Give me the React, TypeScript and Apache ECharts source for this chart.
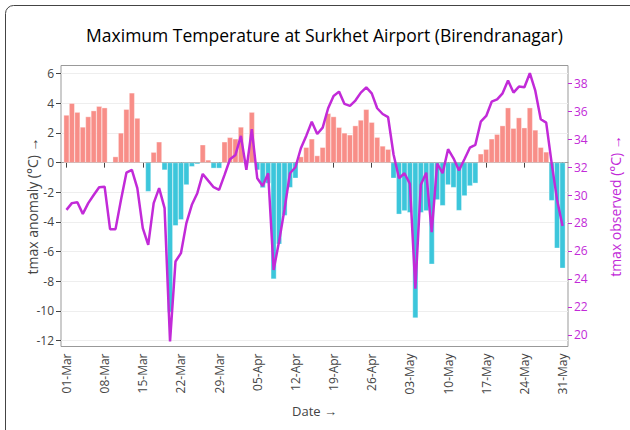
import React, { useEffect, useRef } from "react";
import * as echarts from "echarts";

// Months covered by the chart (name, number of days)
const months: [string, number][] = [
  ["Mar", 31],
  ["Apr", 30],
  ["May", 31],
];

// Tick labels shown on the date axis
const xTickLabels = [
  "01-Mar", "08-Mar", "15-Mar", "22-Mar", "29-Mar",
  "05-Apr", "12-Apr", "19-Apr", "26-Apr",
  "03-May", "10-May", "17-May", "24-May", "31-May",
];

// Daily tmax anomaly (°C), 01-Mar .. 31-May
const anomaly = [
  3.2, 4.0, 3.4, 2.4, 3.1, 3.5, 3.8, 3.7, 0, 0.4,
  2.0, 3.6, 4.7, 3.0, 0, -1.95, 0.7, 1.4, -0.5, -10.1,
  -4.25, -3.85, -1.5, -0.27, -0.1, 1.2, 0.18, -0.38, -0.38, 1.4,
  1.7, 1.6, 2.4, 0.2, 3.4, -0.5, -1.7, -1.4, -7.85, -5.5,
  -3.57, -1.68, -1.05, 0.4, 1.03, 1.6, 0.47, 1.03, 3.32, 3.1,
  2.38, 2.0, 1.87, 2.49, 2.87, 3.59, 2.72, 1.71, 1.12, 0.9,
  -1.05, -3.48, -3.25, -3.37, -10.48, -3.37, -3.25, -6.85, -2.51, -2.9,
  -1.5, -1.68, -3.23, -2.24, -1.57, -1.39, 0.59, 0.9, 1.6, 1.91,
  2.49, 3.7, 2.31, 3.03, 2.35, 3.7, 2.2, 1.03, 0.72, -2.56,
  -5.77, -7.12,
];

// Daily observed tmax (°C), 01-Mar .. 31-May
const observed = [
  28.94, 29.42, 29.49, 28.65, 29.42, 30.0, 30.56, 30.6, 27.56, 27.56,
  29.65, 31.6, 31.8, 30.49, 27.63, 26.43, 29.42, 30.49, 29.06, 19.52,
  25.24, 25.84, 27.99, 29.3, 30.13, 31.51, 31.03, 30.56, 30.37, 31.44,
  32.56, 32.87, 34.23, 31.8, 34.71, 31.2, 30.65, 31.56, 24.64, 26.67,
  28.98, 31.56, 31.99, 33.35, 34.25, 35.25, 34.37, 34.82, 36.21, 37.09,
  37.4, 36.52, 36.38, 36.76, 37.33, 37.71, 37.28, 36.21, 35.8, 35.57,
  32.9, 31.2, 31.56, 30.8, 23.3, 30.73, 31.6, 27.35, 32.25, 31.56,
  33.28, 32.63, 31.75, 32.56, 33.39, 33.59, 35.25, 35.66, 36.68, 36.85,
  37.28, 38.19, 37.33, 37.76, 37.71, 38.72, 37.47, 35.42, 35.18, 32.28,
  29.65, 27.79,
];

const leftTicks = [-12, -10, -8, -6, -4, -2, 0, 2, 4, 6];
const rightTicks = [20, 22, 24, 26, 28, 30, 32, 34, 36, 38];

const FONT = "'Open Sans', 'Noto Sans', sans-serif";
const POS = "#F88E88";
const NEG = "#3CC6DB";
const LINE = "#C22AD8";
const AXIS_TXT = "#444";

function buildDates(): string[] {
  const out: string[] = [];
  for (const [m, n] of months) {
    for (let d = 1; d <= n; d++) out.push(`${String(d).padStart(2, "0")}-${m}`);
  }
  return out;
}

export default function App() {
  const ref = useRef<HTMLDivElement>(null);

  useEffect(() => {
    if (!ref.current) return;
    const chart = echarts.init(ref.current, undefined, { renderer: "svg" });

    const dates = buildDates();
    // one padding slot either side, like the reference's axis range
    const cats = ["28-Feb", ...dates, "01-Jun"];
    const barData = [null, ...anomaly, null];
    const lineData = [null, ...observed, null];
    const showTick = (idx: number) => xTickLabels.includes(cats[idx]);

    chart.setOption({
      animation: false,
      backgroundColor: "#fff",
      textStyle: { fontFamily: FONT },
      title: {
        text: "Maximum Temperature at Surkhet Airport (Birendranagar)",
        left: 319.5,
        top: 21,
        textAlign: "center",
        textStyle: { fontSize: 17.5, fontWeight: "normal", color: "#000", fontFamily: FONT },
      },
      graphic: [
        {
          type: "rect",
          shape: { x: 5.5, y: 5.5, width: 700, height: 600, r: 8 },
          style: { fill: "none", stroke: "#444", lineWidth: 1 },
          silent: true,
        },
      ],
      grid: {
        left: 61,
        right: 57,
        top: 65.5,
        bottom: 83.5,
        show: true,
        borderColor: "#999",
        borderWidth: 1,
        backgroundColor: "transparent",
      },
      xAxis: {
        type: "category",
        data: cats,
        boundaryGap: false,
        axisLine: { show: true, lineStyle: { color: "#999" } },
        axisTick: {
          show: true,
          interval: (i: number) => showTick(i),
          length: 5,
          lineStyle: { color: AXIS_TXT },
        },
        axisLabel: {
          interval: (i: number) => showTick(i),
          rotate: 90,
          fontSize: 12,
          color: AXIS_TXT,
          fontFamily: FONT,
          margin: 7,
        },
        splitLine: { show: false },
        name: "Date →",
        nameLocation: "middle",
        nameGap: 58,
        nameMoveOverlap: false,
        nameTextStyle: { fontSize: 13, color: AXIS_TXT, fontFamily: FONT },
      },
      yAxis: [
        {
          type: "value",
          position: "left",
          min: -12.4,
          max: 6.55,
          axisLine: { show: false },
          axisTick: {
            show: true,
            length: 5,
            customValues: leftTicks,
            lineStyle: { color: AXIS_TXT },
          },
          axisLabel: {
            customValues: leftTicks,
            fontSize: 12,
            color: AXIS_TXT,
            fontFamily: FONT,
            margin: 7,
          },
          splitLine: { show: true, lineStyle: { color: "#eee", width: 1 } },
          name: "tmax anomaly (°C) →",
          nameLocation: "middle",
          nameRotate: 90,
          nameGap: 22,
          nameMoveOverlap: false,
          nameTextStyle: { fontSize: 14, color: AXIS_TXT, fontFamily: FONT },
        },
        {
          type: "value",
          position: "right",
          min: 19.16,
          max: 39.27,
          axisLine: { show: false },
          axisTick: {
            show: true,
            length: 4,
            customValues: rightTicks,
            lineStyle: { color: LINE },
          },
          axisLabel: {
            customValues: rightTicks,
            fontSize: 12,
            color: LINE,
            fontFamily: FONT,
            margin: 6,
          },
          splitLine: { show: false },
          name: "tmax observed (°C) →",
          nameLocation: "middle",
          nameRotate: 90,
          nameGap: 40,
          nameMoveOverlap: false,
          nameTextStyle: { fontSize: 14, color: LINE, fontFamily: FONT },
        },
      ],
      series: [
        {
          type: "bar",
          name: "tmax anomaly",
          data: barData,
          yAxisIndex: 0,
          barCategoryGap: "0%",
          itemStyle: {
            color: (p: any) => (p.value >= 0 ? POS : NEG),
            borderColor: "#fff",
            borderWidth: 0.35,
          },
        },
        {
          type: "line",
          name: "tmax observed",
          data: lineData,
          yAxisIndex: 1,
          symbol: "none",
          connectNulls: false,
          lineStyle: { color: LINE, width: 2.5 },
          z: 5,
        },
      ],
    });

    return () => chart.dispose();
  }, []);

  return (
    <div
      ref={ref}
      style={{ position: "absolute", left: 0, top: 0, width: 630, height: 430 }}
    />
  );
}
